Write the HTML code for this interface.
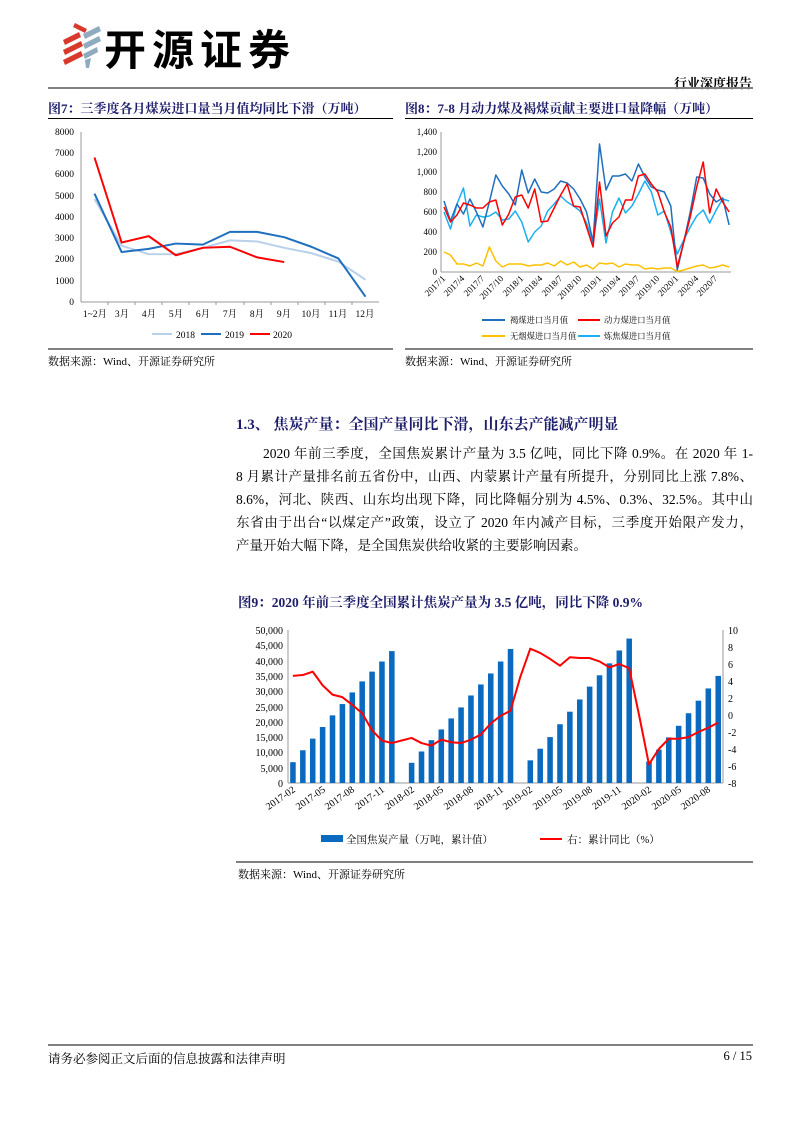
<!DOCTYPE html>
<html><head><meta charset="utf-8">
<style>
body{margin:0;background:#fff;}
#p{position:relative;width:793px;height:1122px;overflow:hidden;font-family:"Liberation Serif","Noto Serif CJK SC",serif;color:#000;}
.a{position:absolute;white-space:nowrap;}
.t{font-weight:bold;color:#1c1c6b;font-size:13px;}
.src{font-size:11px;}
.para{font-size:13.5px;line-height:23px;}
.para .j{text-align:justify;text-align-last:justify;}
svg text{font-family:"Liberation Serif","Noto Serif CJK SC",serif;}
</style></head><body><div id="p">
<!-- logo -->
<svg class="a" style="left:55px;top:20px" width="50" height="50">
<polygon points="20,3 32,9 30,13 18,7" fill="#d9392b"/>
<polygon points="8,20 24,12 26,17 10,25" fill="#d9392b"/>
<polygon points="8,30 26,21 28,26 10,35" fill="#d9392b"/>
<polygon points="8,40 26,31 28,36 10,45" fill="#d9392b"/>
<polygon points="28,14 44,6 46,11 30,19" fill="#8fabbf"/>
<polygon points="28,24 44,16 46,21 30,29" fill="#8fabbf"/>
<polygon points="28,34 42,27 43,32 30,39" fill="#8fabbf"/>
<polygon points="30,40 36,38 34,48 31,48" fill="#8fabbf"/>
</svg>
<div class="a" style="left:104px;top:20px;font-size:42px;font-weight:bold;font-family:'Noto Sans CJK SC',sans-serif;letter-spacing:6px;line-height:56px;">开源证券</div>
<div class="a" style="right:41px;top:73px;font-size:13px;font-weight:bold;">行业深度报告</div>
<div class="a" style="left:48px;top:87px;width:705px;height:2px;background:#808080"></div>

<div class="a t" style="left:48px;top:98px">图7：三季度各月煤炭进口量当月值均同比下滑（万吨）</div>
<div class="a t" style="left:405px;top:98px">图8：7-8 月动力煤及褐煤贡献主要进口量降幅（万吨）</div>
<div class="a" style="left:48px;top:118px;width:345px;height:1px;background:#000"></div>
<div class="a" style="left:405px;top:118px;width:348px;height:1px;background:#000"></div>

<svg class="a" style="left:0;top:0" width="793" height="1122">
<!-- chart 7 -->
<g font-size="9.5" text-anchor="end">
<text x="74" y="135">8000</text><text x="74" y="156">7000</text><text x="74" y="177">6000</text><text x="74" y="199">5000</text><text x="74" y="220">4000</text><text x="74" y="241">3000</text><text x="74" y="262">2000</text><text x="74" y="284">1000</text><text x="74" y="305">0</text>
</g>
<line x1="81" y1="132" x2="81" y2="302" stroke="#999" stroke-width="1"/>
<line x1="81" y1="302" x2="379" y2="302" stroke="#999" stroke-width="1"/>
<g stroke="#999"><line x1="108" y1="302" x2="108" y2="305"/><line x1="135" y1="302" x2="135" y2="305"/><line x1="162" y1="302" x2="162" y2="305"/><line x1="189" y1="302" x2="189" y2="305"/><line x1="216" y1="302" x2="216" y2="305"/><line x1="244" y1="302" x2="244" y2="305"/><line x1="271" y1="302" x2="271" y2="305"/><line x1="298" y1="302" x2="298" y2="305"/><line x1="325" y1="302" x2="325" y2="305"/><line x1="352" y1="302" x2="352" y2="305"/></g>
<g font-size="9.5" text-anchor="middle">
<text x="95" y="317">1~2月</text><text x="122" y="317">3月</text><text x="149" y="317">4月</text><text x="176" y="317">5月</text><text x="203" y="317">6月</text><text x="230" y="317">7月</text><text x="257" y="317">8月</text><text x="284" y="317">9月</text><text x="311" y="317">10月</text><text x="338" y="317">11月</text><text x="365" y="317">12月</text>
</g>
<g transform="matrix(27.1,0,0,-0.02125,94.5,302)" fill="none" stroke-linejoin="round">
<polyline vector-effect="non-scaling-stroke" stroke="#b8d0ea" stroke-width="2" points="0,4850 1,2650 2,2250 3,2250 4,2550 5,2900 6,2850 7,2550 8,2300 9,1900 10,1050"/>
<polyline vector-effect="non-scaling-stroke" stroke="#1f6fbf" stroke-width="2" points="0,5100 1,2350 2,2500 3,2750 4,2700 5,3300 6,3300 7,3050 8,2600 9,2050 10,250"/>
<polyline vector-effect="non-scaling-stroke" stroke="#ff0000" stroke-width="2" points="0,6800 1,2800 2,3100 3,2200 4,2550 5,2600 6,2100 7,1880"/>
</g>
<line x1="152" y1="334" x2="172" y2="334" stroke="#b8d0ea" stroke-width="2"/><text x="176" y="338" font-size="9.5">2018</text>
<line x1="201" y1="334" x2="221" y2="334" stroke="#1f6fbf" stroke-width="2"/><text x="225" y="338" font-size="9.5">2019</text>
<line x1="250" y1="334" x2="270" y2="334" stroke="#ff0000" stroke-width="2"/><text x="273" y="338" font-size="9.5">2020</text>

<!-- chart 8 -->
<g font-size="9" text-anchor="end">
<text x="437" y="135">1,400</text><text x="437" y="155">1,200</text><text x="437" y="175">1,000</text><text x="437" y="195">800</text><text x="437" y="215">600</text><text x="437" y="235">400</text><text x="437" y="255">200</text><text x="437" y="275">0</text>
</g>
<line x1="441" y1="132" x2="441" y2="272" stroke="#999"/>
<line x1="441" y1="272" x2="731" y2="272" stroke="#999"/>
<g font-size="9" text-anchor="end">
<text transform="translate(446,279) rotate(-45)">2017/1</text><text transform="translate(465,279) rotate(-45)">2017/4</text><text transform="translate(485,279) rotate(-45)">2017/7</text><text transform="translate(504,279) rotate(-45)">2017/10</text><text transform="translate(524,279) rotate(-45)">2018/1</text><text transform="translate(543,279) rotate(-45)">2018/4</text><text transform="translate(563,279) rotate(-45)">2018/7</text><text transform="translate(582,279) rotate(-45)">2018/10</text><text transform="translate(602,279) rotate(-45)">2019/1</text><text transform="translate(621,279) rotate(-45)">2019/4</text><text transform="translate(640,279) rotate(-45)">2019/7</text><text transform="translate(660,279) rotate(-45)">2019/10</text><text transform="translate(679,279) rotate(-45)">2020/1</text><text transform="translate(699,279) rotate(-45)">2020/4</text><text transform="translate(718,279) rotate(-45)">2020/7</text>
</g>
<g transform="matrix(6.48,0,0,-0.1,444,272)" fill="none" stroke-linejoin="round">
<polyline vector-effect="non-scaling-stroke" stroke="#ffc000" stroke-width="1.5" points="0,200 1,170 2,80 3,80 4,60 5,90 6,60 7,250 8,110 9,50 10,80 11,80 12,80 13,60 14,70 15,70 16,90 17,60 18,110 19,70 20,100 21,50 22,70 23,30 24,90 25,80 26,90 27,50 28,80 29,70 30,70 31,30 32,40 33,30 34,40 35,40 36,5 37,20 38,40 39,60 40,70 41,40 42,50 43,70 44,50"/>
<polyline vector-effect="non-scaling-stroke" stroke="#1ab0f0" stroke-width="1.5" points="0,600 1,430 2,680 3,840 4,460 5,570 6,550 7,560 8,600 9,520 10,530 11,610 12,500 13,300 14,400 15,460 16,610 17,680 18,760 19,700 20,660 21,610 22,490 23,300 24,730 25,290 26,600 27,740 28,590 29,660 30,780 31,910 32,800 33,570 34,610 35,400 36,180 37,320 38,450 39,560 40,620 41,490 42,620 43,730 44,710"/>
<polyline vector-effect="non-scaling-stroke" stroke="#1f6fbf" stroke-width="1.5" points="0,710 1,510 2,680 3,580 4,730 5,600 6,450 7,700 8,970 9,860 10,780 11,670 12,1020 13,790 14,930 15,800 16,790 17,830 18,910 19,890 20,830 21,730 22,600 23,300 24,1280 25,820 26,960 27,960 28,980 29,910 30,1080 31,950 32,850 33,820 34,800 35,660 36,20 37,300 38,600 39,950 40,940 41,780 42,700 43,740 44,470"/>
<polyline vector-effect="non-scaling-stroke" stroke="#ff0000" stroke-width="1.5" points="0,650 1,500 2,570 3,690 4,670 5,640 6,640 7,700 8,720 9,470 10,580 11,750 12,770 13,640 14,830 15,500 16,510 17,640 18,770 19,880 20,660 21,650 22,450 23,250 24,900 25,360 26,490 27,550 28,720 29,720 30,960 31,980 32,880 33,800 34,600 35,450 36,50 37,300 38,550 39,850 40,1100 41,590 42,830 43,700 44,600"/>
</g>
<g font-size="8.3">
<line x1="482" y1="320" x2="505" y2="320" stroke="#1f6fbf" stroke-width="2"/><text x="510" y="323">褐煤进口当月值</text>
<line x1="578" y1="320" x2="600" y2="320" stroke="#ff0000" stroke-width="2"/><text x="604" y="323">动力煤进口当月值</text>
<line x1="482" y1="336" x2="505" y2="336" stroke="#ffc000" stroke-width="2"/><text x="510" y="339">无烟煤进口当月值</text>
<line x1="578" y1="336" x2="600" y2="336" stroke="#1ab0f0" stroke-width="2"/><text x="604" y="339">炼焦煤进口当月值</text>
</g>
<line x1="48" y1="349" x2="393" y2="349" stroke="#000"/>
<line x1="405" y1="349" x2="753" y2="349" stroke="#000"/>

<!-- chart 9 -->
<g font-size="10" text-anchor="end">
<text x="283" y="634">50,000</text><text x="283" y="649">45,000</text><text x="283" y="665">40,000</text><text x="283" y="680">35,000</text><text x="283" y="695">30,000</text><text x="283" y="711">25,000</text><text x="283" y="726">20,000</text><text x="283" y="741">15,000</text><text x="283" y="756">10,000</text><text x="283" y="772">5,000</text><text x="283" y="787">0</text>
</g>
<g font-size="10">
<text x="728" y="634">10</text><text x="728" y="651">8</text><text x="728" y="668">6</text><text x="728" y="685">4</text><text x="728" y="702">2</text><text x="728" y="719">0</text><text x="728" y="736">-2</text><text x="728" y="753">-4</text><text x="728" y="770">-6</text><text x="728" y="787">-8</text>
</g>
<line x1="288" y1="630" x2="288" y2="783" stroke="#999"/>
<line x1="723" y1="630" x2="723" y2="783" stroke="#999"/>
<line x1="288" y1="783" x2="723" y2="783" stroke="#999"/>
<g transform="matrix(9.89,0,0,-0.00306,288,783)" fill="#0a6ac0">
<rect x="0.22" y="0" width="0.56" height="6800"/><rect x="1.22" y="0" width="0.56" height="10700"/><rect x="2.22" y="0" width="0.56" height="14500"/><rect x="3.22" y="0" width="0.56" height="18300"/><rect x="4.22" y="0" width="0.56" height="22100"/><rect x="5.22" y="0" width="0.56" height="25800"/><rect x="6.22" y="0" width="0.56" height="29600"/><rect x="7.22" y="0" width="0.56" height="33200"/><rect x="8.22" y="0" width="0.56" height="36400"/><rect x="9.22" y="0" width="0.56" height="39700"/><rect x="10.22" y="0" width="0.56" height="43100"/>
<rect x="12.22" y="0" width="0.56" height="6600"/><rect x="13.22" y="0" width="0.56" height="10300"/><rect x="14.22" y="0" width="0.56" height="14000"/><rect x="15.22" y="0" width="0.56" height="17500"/><rect x="16.22" y="0" width="0.56" height="21100"/><rect x="17.22" y="0" width="0.56" height="24700"/><rect x="18.22" y="0" width="0.56" height="28600"/><rect x="19.22" y="0" width="0.56" height="32200"/><rect x="20.22" y="0" width="0.56" height="35800"/><rect x="21.22" y="0" width="0.56" height="39700"/><rect x="22.22" y="0" width="0.56" height="43800"/>
<rect x="24.22" y="0" width="0.56" height="7400"/><rect x="25.22" y="0" width="0.56" height="11200"/><rect x="26.22" y="0" width="0.56" height="15000"/><rect x="27.22" y="0" width="0.56" height="19200"/><rect x="28.22" y="0" width="0.56" height="23300"/><rect x="29.22" y="0" width="0.56" height="27300"/><rect x="30.22" y="0" width="0.56" height="31500"/><rect x="31.22" y="0" width="0.56" height="35200"/><rect x="32.22" y="0" width="0.56" height="39100"/><rect x="33.22" y="0" width="0.56" height="43300"/><rect x="34.22" y="0" width="0.56" height="47200"/>
<rect x="36.22" y="0" width="0.56" height="7000"/><rect x="37.22" y="0" width="0.56" height="10900"/><rect x="38.22" y="0" width="0.56" height="14900"/><rect x="39.22" y="0" width="0.56" height="18700"/><rect x="40.22" y="0" width="0.56" height="22800"/><rect x="41.22" y="0" width="0.56" height="26900"/><rect x="42.22" y="0" width="0.56" height="30900"/><rect x="43.22" y="0" width="0.56" height="35000"/>
</g>
<g transform="matrix(9.89,0,0,-8.5,292.9,715)" fill="none">
<polyline vector-effect="non-scaling-stroke" stroke="#ff0000" stroke-width="2" stroke-linejoin="round" points="0,4.6 1,4.7 2,5.1 3,3.5 4,2.4 5,2.1 6,1.2 7,0.2 8,-1.8 9,-3.0 10,-3.3 11,-3.0 12,-2.7 13,-3.3 14,-3.6 15,-2.9 16,-3.2 17,-3.3 18,-2.9 19,-2.3 20,-1.0 21,-0.1 22,0.5 23,4.5 24,7.8 25,7.3 26,6.6 27,5.8 28,6.8 29,6.7 30,6.7 31,6.3 32,5.6 33,6.0 34,5.5 35,0 36,-5.8 37,-4.0 38,-2.8 39,-2.8 40,-2.6 41,-2.0 42,-1.5 43,-0.9"/>
</g>
<g font-size="10" text-anchor="end">
<text transform="translate(296,791) rotate(-35)">2017-02</text><text transform="translate(326,791) rotate(-35)">2017-05</text><text transform="translate(355,791) rotate(-35)">2017-08</text><text transform="translate(385,791) rotate(-35)">2017-11</text><text transform="translate(415,791) rotate(-35)">2018-02</text><text transform="translate(444,791) rotate(-35)">2018-05</text><text transform="translate(474,791) rotate(-35)">2018-08</text><text transform="translate(504,791) rotate(-35)">2018-11</text><text transform="translate(533,791) rotate(-35)">2019-02</text><text transform="translate(563,791) rotate(-35)">2019-05</text><text transform="translate(593,791) rotate(-35)">2019-08</text><text transform="translate(622,791) rotate(-35)">2019-11</text><text transform="translate(652,791) rotate(-35)">2020-02</text><text transform="translate(682,791) rotate(-35)">2020-05</text><text transform="translate(711,791) rotate(-35)">2020-08</text>
</g>
<rect x="321" y="835" width="22" height="7" fill="#0a6ac0"/>
<text x="346" y="843" font-size="10.5">全国焦炭产量（万吨，累计值）</text>
<line x1="540" y1="839" x2="562" y2="839" stroke="#ff0000" stroke-width="2"/>
<text x="567" y="843" font-size="10.5">右：累计同比（%）</text>
<line x1="236" y1="862" x2="753" y2="862" stroke="#000"/>
<line x1="48" y1="1045" x2="753" y2="1045" stroke="#000"/>
</svg>

<div class="a src" style="left:48px;top:353px">数据来源：Wind、开源证券研究所</div>
<div class="a src" style="left:405px;top:353px">数据来源：Wind、开源证券研究所</div>

<div class="a" style="left:236px;top:413px;font-size:15px;font-weight:bold;color:#1c1c6b">1.3、 焦炭产量：全国产量同比下滑，山东去产能减产明显</div>
<div class="a para" style="left:236px;top:442px;width:517px;white-space:normal;">
<div class="j" style="text-indent:27px">2020 年前三季度，全国焦炭累计产量为 3.5 亿吨，同比下降 0.9%。在 2020 年 1-</div>
<div class="j">8 月累计产量排名前五省份中，山西、内蒙累计产量有所提升，分别同比上涨 7.8%、</div>
<div class="j">8.6%，河北、陕西、山东均出现下降，同比降幅分别为 4.5%、0.3%、32.5%。其中山</div>
<div class="j">东省由于出台“以煤定产”政策，设立了 2020 年内减产目标，三季度开始限产发力，</div>
<div>产量开始大幅下降，是全国焦炭供给收紧的主要影响因素。</div>
</div>

<div class="a t" style="left:238px;top:591px;font-size:13.5px">图9：2020 年前三季度全国累计焦炭产量为 3.5 亿吨，同比下降 0.9%</div>
<div class="a src" style="left:238px;top:866px">数据来源：Wind、开源证券研究所</div>

<div class="a" style="left:48px;top:1049px;font-size:12.5px">请务必参阅正文后面的信息披露和法律声明</div>
<div class="a" style="right:41px;top:1049px;font-size:12.5px">6 / 15</div>
</div></body></html>
